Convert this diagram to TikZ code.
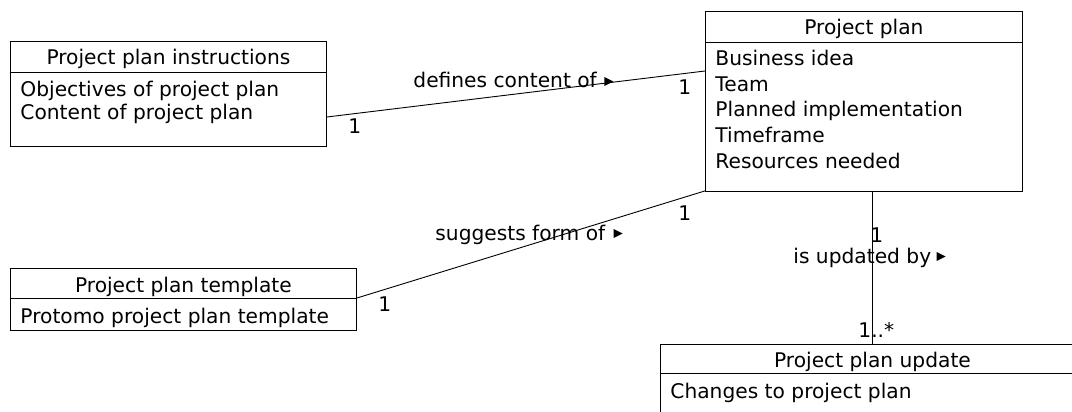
\documentclass[tikz,border=0pt]{standalone}
\usepackage{fontspec}
\setmainfont{DejaVu Sans}
\usetikzlibrary{calc}
\begin{document}
\begin{tikzpicture}[x=1pt,y=-1pt,line width=0.9pt,
  font=\fontsize{20.2}{24}\selectfont,
  classbox/.style={draw,rectangle,anchor=north west,inner sep=0pt},
  txt/.style={inner sep=0pt,anchor=base west},
  head/.style={inner sep=0pt,anchor=base},
  lbl/.style={inner sep=0pt,anchor=base west},
  tri/.style={fill=black}]
\path[use as bounding box] (0,0) rectangle (1072,412);
\clip (0,0) rectangle (1072,412);

% classes
\node[classbox,minimum width=316,minimum height=105] (ppi) at (10,41) {};
\draw ($(ppi.north west)+(0,31)$) -- ($(ppi.north east)+(0,31)$);
\node[head] (ppih) at ($(ppi.north)+(0,24)$) {Project plan instructions};
\node[txt] (ppi1) at (20,97) {Objectives of project plan};
\node[txt] (ppi2) at (20,120) {Content of project plan};

\node[classbox,minimum width=317,minimum height=180] (pp) at (705,11) {};
\draw ($(pp.north west)+(0,31)$) -- ($(pp.north east)+(0,31)$);
\node[head] (pph) at ($(pp.north)+(0,24)$) {Project plan};
\node[txt] (pp1) at (715,66) {Business idea};
\node[txt] (pp2) at (715,91.5) {Team};
\node[txt] (pp3) at (715,117) {Planned implementation};
\node[txt] (pp4) at (715,142.5) {Timeframe};
\node[txt] (pp5) at (715,168) {Resources needed};

\node[classbox,minimum width=346,minimum height=62] (ppt) at (10,268) {};
\draw ($(ppt.north west)+(0,30)$) -- ($(ppt.north east)+(0,30)$);
\node[head] (ppth) at ($(ppt.north)+(0,24)$) {Project plan template};
\node[txt] (ppt1) at (20,323) {Protomo project plan template};

\node[classbox,minimum width=424,minimum height=90] (ppu) at (660,344) {};
\draw ($(ppu.north west)+(0,29)$) -- ($(ppu.north east)+(0,29)$);
\node[head] (ppuh) at ($(ppu.north)+(0,23)$) {Project plan update};
\node[txt] (ppu1) at (670,398) {Changes to project plan};

% connection points on the class borders
\coordinate (a1) at ($(ppi.north east)+(0,76)$);
\coordinate (b1) at ($(pp.north west)+(0,60)$);
\coordinate (a2) at ($(ppt.north east)+(0,30)$);
\coordinate (b2) at ($(pp.south west)+(0,-1)$);
\coordinate (a3) at ($(pp.south west)+(167,0)$);
\coordinate (b3) at (ppu.north west -| a3);

% associations
\draw (a1) -- (b1);
\draw (a2) -- (b2);
\draw (a3) -- (b3);

% association names with direction markers
\node[lbl] (l1) at (413,88) {defines content of};
\fill[tri] ($(l1.base east)+(7,-2)$) -- ++(0,-9) -- ++(9,4.5) -- cycle;
\node[lbl] (l2) at (435,240) {suggests form of};
\fill[tri] ($(l2.base east)+(8,-2)$) -- ++(0,-9) -- ++(9,4.5) -- cycle;
\node[lbl] (l3) at (793,263) {is updated by};
\fill[tri] ($(l3.base east)+(5,-2)$) -- ++(0,-9) -- ++(9,4.5) -- cycle;

% multiplicities
\node[lbl] (m1a) at (348,133) {1};
\node[lbl] (m1b) at (678,95) {1};
\node[lbl] (m2a) at (378,311) {1};
\node[lbl] (m2b) at (678,220) {1};
\node[lbl] (m3a) at (870,242) {1};
\node[lbl] (m3b) at (858,337) {1..*};
\end{tikzpicture}
\end{document}
